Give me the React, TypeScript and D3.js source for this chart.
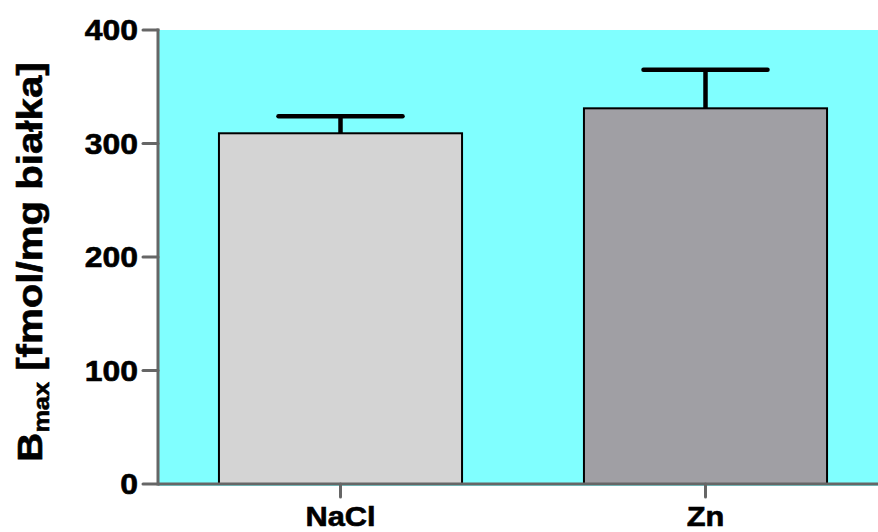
import React from 'react'
import * as d3 from 'd3'

const groups = ['NaCl', 'Zn']
const means = [309, 331]
const errors = [15, 34]
const barColors = ['#d4d4d4', '#a09fa4']
const yTicks = [0, 100, 200, 300, 400]

const W = 878
const H = 532
const axisColor = '#666666'
const font = '"Liberation Sans", Arial, Helvetica, sans-serif'
const stretch = 1.1

const App = () => {
  React.useEffect(() => {
    document.body.style.margin = '0'
  }, [])

  const left = 158
  const top = 30
  const bottom = 484

  const y = d3.scaleLinear().domain([0, 400]).range([bottom, top])
  const x = d3.scaleBand<string>()
    .domain(groups)
    .range([left, left + 730])
    .paddingInner(0.334)
    .paddingOuter(0.167)

  return (
    <svg width={W} height={H} style={{ display: 'block' }}>
      {/* plot background */}
      <rect x={left + 1} y={top} width={W - left - 1} height={bottom - top + 2} fill="#80ffff" />

      {/* bars */}
      {groups.map((g, i) => (
        <rect
          key={g}
          x={x(g)}
          y={y(means[i])}
          width={x.bandwidth()}
          height={bottom - y(means[i])}
          fill={barColors[i]}
          stroke="#000"
          strokeWidth={2}
        />
      ))}

      {/* error bars */}
      {groups.map((g, i) => {
        const cx = (x(g) as number) + x.bandwidth() / 2
        const half = 62
        return (
          <g key={g} stroke="#000" strokeWidth={4.5} strokeLinecap="round">
            <line x1={cx} x2={cx} y1={y(means[i])} y2={y(means[i] + errors[i])} strokeLinecap="butt" />
            <line x1={cx - half} x2={cx + half} y1={y(means[i] + errors[i])} y2={y(means[i] + errors[i])} />
          </g>
        )
      })}

      {/* y axis */}
      <line x1={left} x2={left} y1={top - 1.5} y2={bottom + 1.5} stroke={axisColor} strokeWidth={3} />
      {yTicks.map((t) => (
        <g key={t}>
          <line x1={left - 15} x2={left} y1={y(t)} y2={y(t)} stroke={axisColor} strokeWidth={3} strokeLinecap="round" />
          <text
            transform={`translate(${left - 20},${y(t) + 10}) scale(${stretch},1)`}
            textAnchor="end"
            fontFamily={font}
            fontWeight="bold"
            fontSize={29}
            fill="#000"
            stroke="#000"
            strokeWidth={0.6}
          >
            {t}
          </text>
        </g>
      ))}

      {/* x axis */}
      <line x1={left} x2={W} y1={bottom} y2={bottom} stroke={axisColor} strokeWidth={3} />
      {groups.map((g) => {
        const cx = (x(g) as number) + x.bandwidth() / 2
        return (
          <g key={g}>
            <line x1={cx} x2={cx} y1={bottom} y2={bottom + 13} stroke={axisColor} strokeWidth={3} strokeLinecap="round" />
            <text
              transform={`translate(${cx},${526}) scale(${stretch},1)`}
              textAnchor="middle"
              fontFamily={font}
              fontWeight="bold"
              fontSize={28}
              fill="#000"
              stroke="#000"
              strokeWidth={0.6}
            >
              {g}
            </text>
          </g>
        )
      })}

      {/* y axis title */}
      <text
        transform={`translate(42,262) rotate(-90) scale(1.15,1)`}
        textAnchor="middle"
        fontFamily={font}
        fontWeight="bold"
        fontSize={35}
        fill="#000"
        stroke="#000"
        strokeWidth={0.6}
      >
        B
        <tspan fontSize={22} dy={7}>max</tspan>
        <tspan dy={-7}> [fmol/mg białka]</tspan>
      </text>
    </svg>
  )
}

export default App
